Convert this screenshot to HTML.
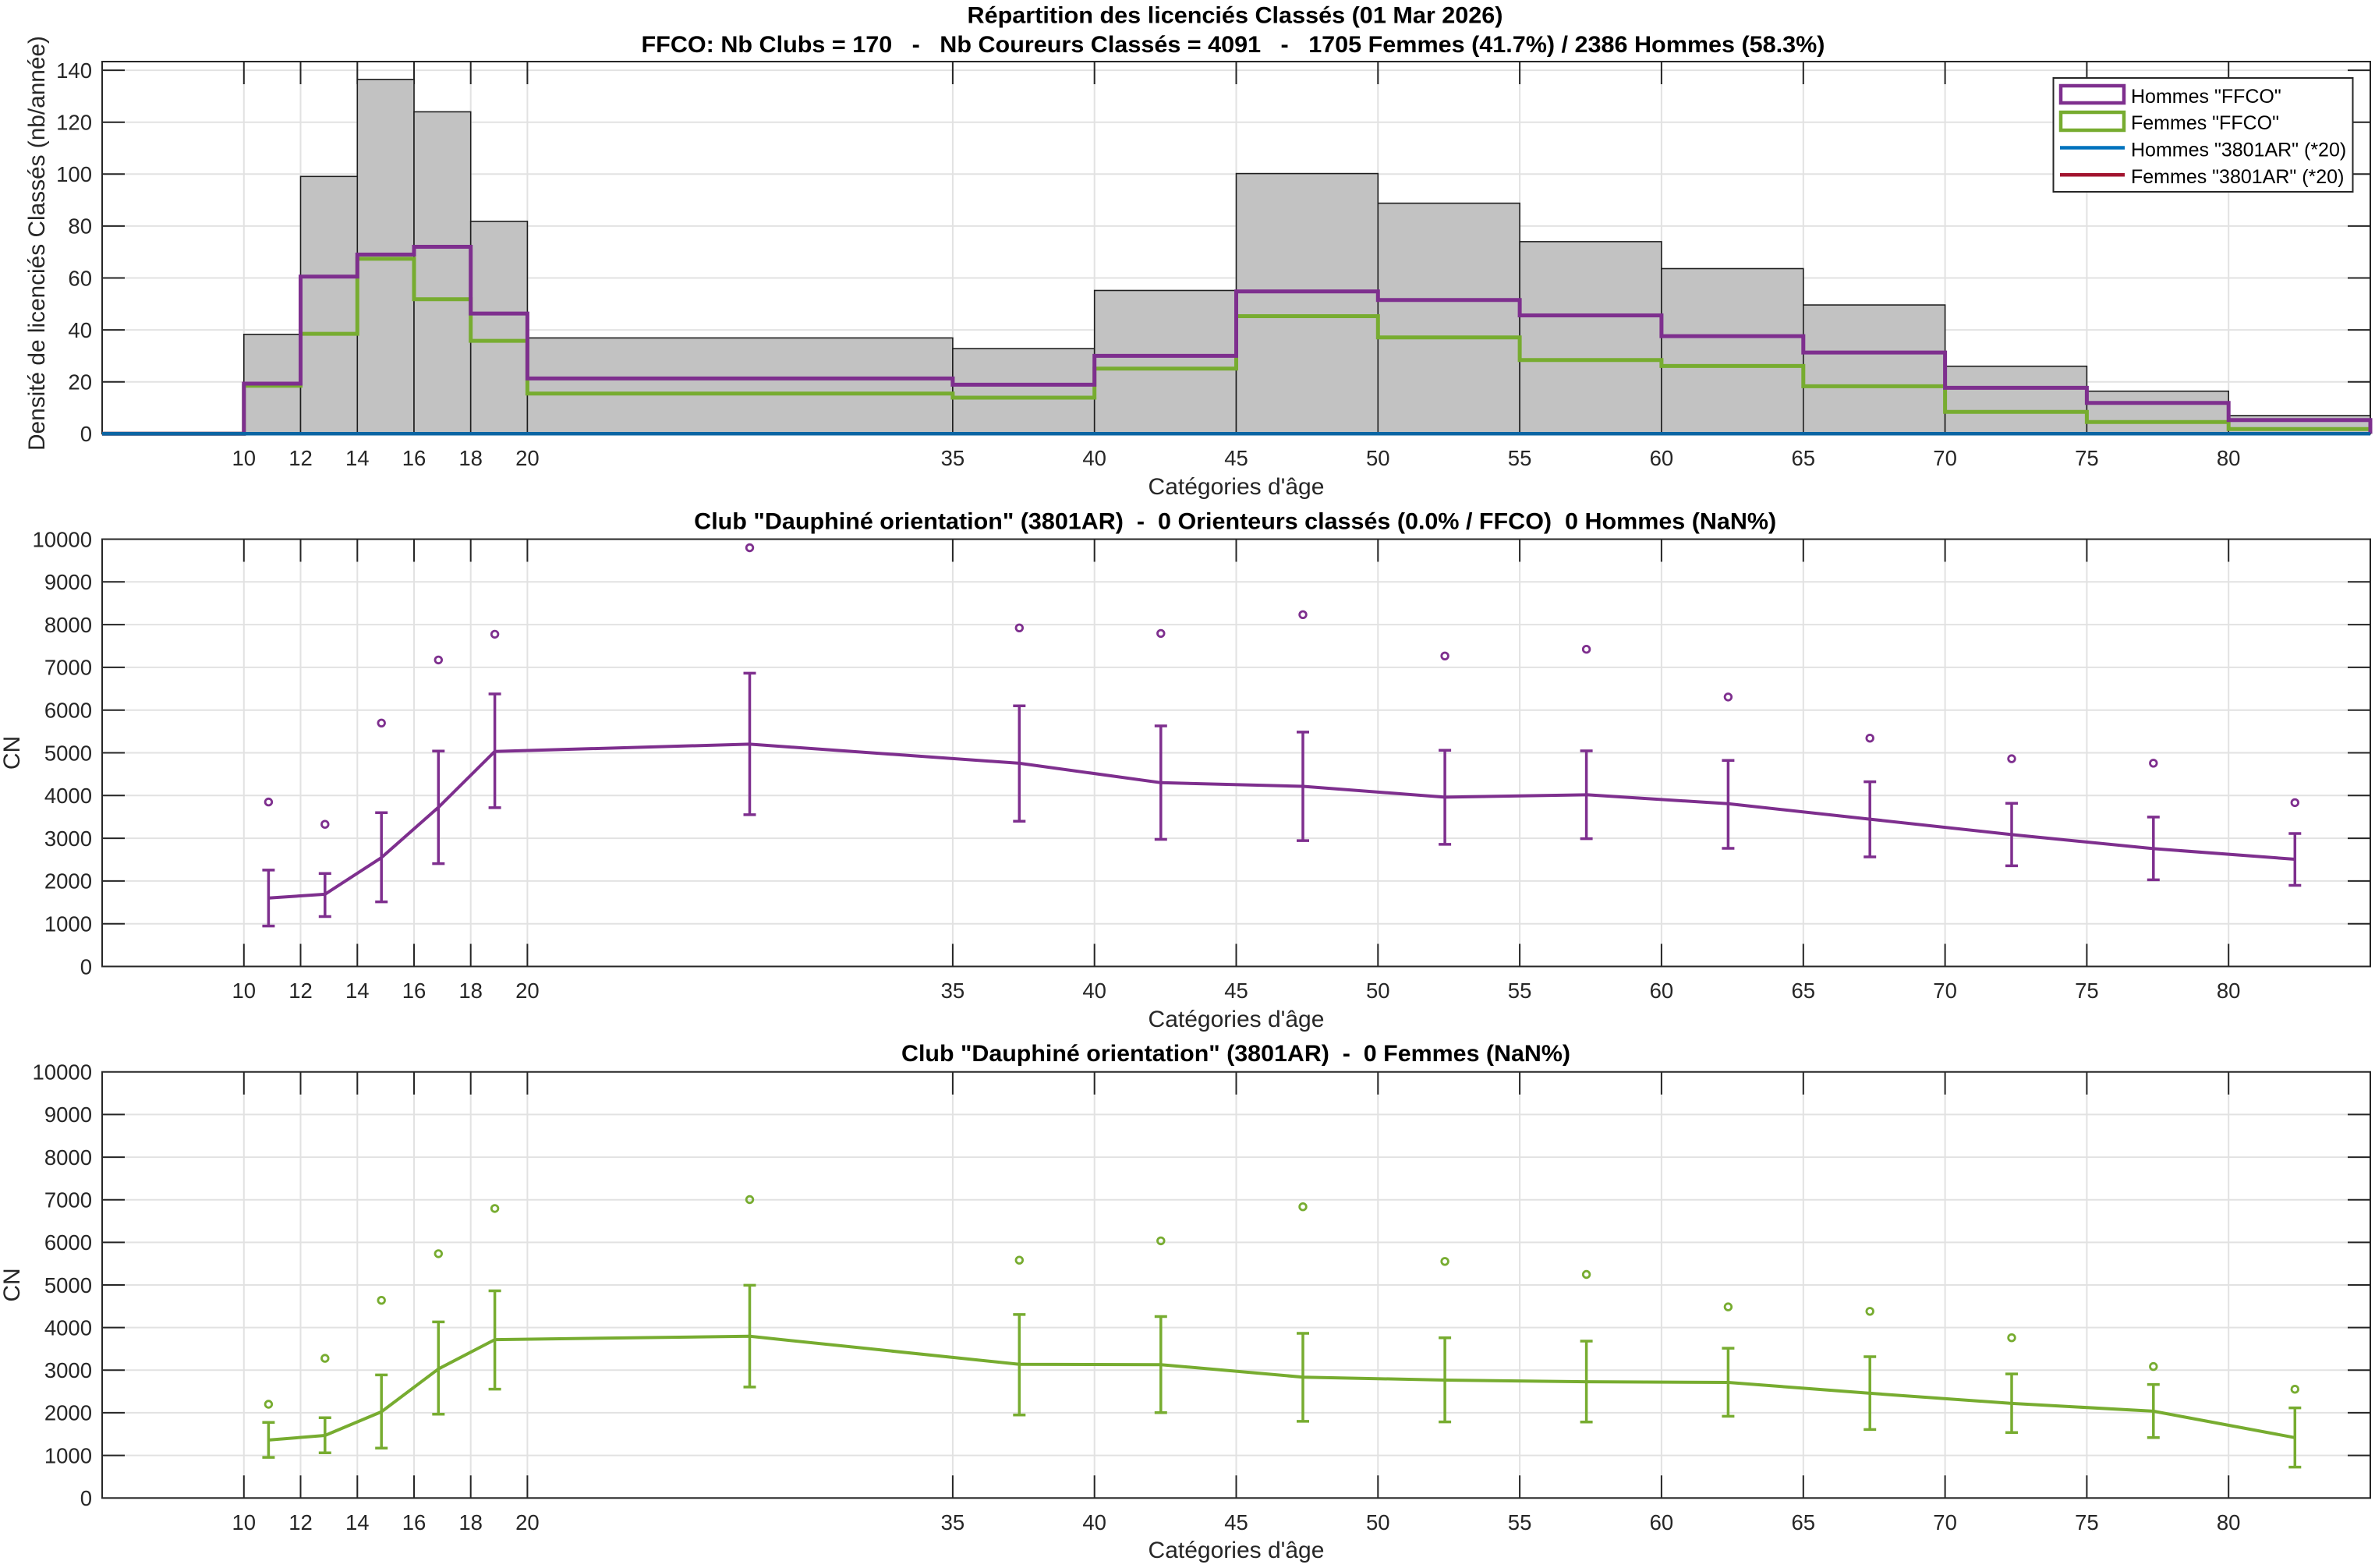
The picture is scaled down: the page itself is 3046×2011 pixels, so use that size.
<!DOCTYPE html>
<html><head><meta charset="utf-8"><style>
html,body{margin:0;padding:0;background:#fff;}
svg{display:block;}
text{font-family:"Liberation Sans",Arial,sans-serif;}
.tk{font-size:27.5px;fill:#262626;}
.lb{font-size:30px;fill:#262626;}
.tt{font-size:30px;font-weight:bold;fill:#000;white-space:pre;}
.lg{font-size:25px;fill:#000;white-space:pre;}
</style></head><body>
<svg width="3046" height="2011" viewBox="0 0 3046 2011" xmlns="http://www.w3.org/2000/svg">
<rect x="0" y="0" width="3046" height="2011" fill="#fff"/>

<!-- ============ TITLES ============ -->
<text class="tt" x="1584" y="29.5" text-anchor="middle" textLength="687" lengthAdjust="spacingAndGlyphs">Répartition des licenciés Classés (01 Mar 2026)</text>
<text class="tt" x="1581.5" y="67" text-anchor="middle" textLength="1518" lengthAdjust="spacingAndGlyphs">FFCO: Nb Clubs = 170   -   Nb Coureurs Classés = 4091   -   1705 Femmes (41.7%) / 2386 Hommes (58.3%)</text>

<!-- ============ PLOT 1 ============ -->
<rect x="131" y="79" width="2909" height="477.3" fill="#fff"/>
<path fill="none" stroke="#e2e2e2" stroke-width="2" d="M312.8 79V556.3M385.5 79V556.3M458.3 79V556.3M531 79V556.3M603.7 79V556.3M676.4 79V556.3M1221.9 79V556.3M1403.7 79V556.3M1585.5 79V556.3M1767.3 79V556.3M1949.1 79V556.3M2130.9 79V556.3M2312.8 79V556.3M2494.6 79V556.3M2676.4 79V556.3M2858.2 79V556.3M131 489.7H3040M131 423.1H3040M131 356.5H3040M131 289.9H3040M131 223.3H3040M131 156.7H3040M131 90.1H3040"/>
<path fill="none" stroke="#262626" stroke-width="2" d="M131 79H3040V556.3H131Z M312.8 79v29M385.5 79v29M458.3 79v29M531 79v29M603.7 79v29M676.4 79v29M1221.9 79v29M1403.7 79v29M1585.5 79v29M1767.3 79v29M1949.1 79v29M2130.9 79v29M2312.8 79v29M2494.6 79v29M2676.4 79v29M2858.2 79v29 M131 489.7h29M131 423.1h29M131 356.5h29M131 289.9h29M131 223.3h29M131 156.7h29M131 90.1h29 M3040 489.7h-29M3040 423.1h-29M3040 356.5h-29M3040 289.9h-29M3040 223.3h-29M3040 156.7h-29M3040 90.1h-29"/>
<!-- bars -->
<g fill="#c2c2c2" stroke="#1e1e1e" stroke-width="1.6">
<rect x="312.8" y="428.8" width="72.7" height="127.5"/>
<rect x="385.5" y="226.3" width="72.8" height="330"/>
<rect x="458.3" y="101.8" width="72.7" height="454.5"/>
<rect x="531" y="143.4" width="72.7" height="412.9"/>
<rect x="603.7" y="283.9" width="72.7" height="272.4"/>
<rect x="676.4" y="433.4" width="545.5" height="122.9"/>
<rect x="1221.9" y="447.1" width="181.8" height="109.2"/>
<rect x="1403.7" y="372.5" width="181.8" height="183.8"/>
<rect x="1585.5" y="222.6" width="181.8" height="333.7"/>
<rect x="1767.3" y="260.6" width="181.8" height="295.7"/>
<rect x="1949.1" y="309.9" width="181.8" height="246.4"/>
<rect x="2130.9" y="344.5" width="181.9" height="211.8"/>
<rect x="2312.8" y="391.1" width="181.8" height="165.2"/>
<rect x="2494.6" y="469.7" width="181.8" height="86.6"/>
<rect x="2676.4" y="501.7" width="181.8" height="54.6"/>
<rect x="2858.2" y="533" width="181.8" height="23.3"/>
</g>
<!-- femmes stairs -->
<path fill="none" stroke="#77AC30" stroke-width="5" d="M131 556.3H312.8V494.7H385.5V428.1H458.3V331.9H531V383.8H603.7V437.1H676.4V504.7H1221.9V510H1403.7V472.7H1585.5V405.5H1767.3V432.8H1949.1V461.7H2130.9V469.4H2312.8V495.4H2494.6V528.3H2676.4V541.3H2858.2V550.3H3040V556.3"/>
<!-- hommes stairs -->
<path fill="none" stroke="#7E2F8E" stroke-width="5" d="M131 556.3H312.8V492H385.5V354.8H458.3V326.5H531V316.5H603.7V402.1H676.4V485.4H1221.9V493.4H1403.7V456.4H1585.5V373.8H1767.3V384.8H1949.1V404.5H2130.9V431.1H2312.8V452.1H2494.6V497.4H2676.4V516.7H2858.2V538.7H3040V556.3"/>
<line x1="131" y1="556.3" x2="3040" y2="556.3" stroke="#A2142F" stroke-width="4.5"/>
<line x1="131" y1="556.3" x2="3040" y2="556.3" stroke="#0b65a3" stroke-width="4.5"/>
<!-- y tick labels -->
<g class="tk" text-anchor="end">
<text x="118" y="566.1">0</text><text x="118" y="499.5">20</text><text x="118" y="432.9">40</text><text x="118" y="366.3">60</text><text x="118" y="299.7">80</text><text x="118" y="233.1">100</text><text x="118" y="166.5">120</text><text x="118" y="99.9">140</text>
</g>
<g class="tk" text-anchor="middle">
<text x="312.8" y="597">10</text><text x="385.5" y="597">12</text><text x="458.3" y="597">14</text><text x="531" y="597">16</text><text x="603.7" y="597">18</text><text x="676.4" y="597">20</text><text x="1221.9" y="597">35</text><text x="1403.7" y="597">40</text><text x="1585.5" y="597">45</text><text x="1767.3" y="597">50</text><text x="1949.1" y="597">55</text><text x="2130.9" y="597">60</text><text x="2312.8" y="597">65</text><text x="2494.6" y="597">70</text><text x="2676.4" y="597">75</text><text x="2858.2" y="597">80</text>
</g>
<text class="lb" x="1585.5" y="634" text-anchor="middle">Catégories d'âge</text>
<text class="lb" transform="translate(57,312) rotate(-90)" x="0" y="0" text-anchor="middle" textLength="532" lengthAdjust="spacingAndGlyphs">Densité de licenciés Classés (nb/année)</text>
<!-- legend -->
<rect x="2633.5" y="100" width="384" height="146" fill="#fff" stroke="#262626" stroke-width="2"/>
<rect x="2643" y="110" width="81" height="22" fill="#fff" stroke="#7E2F8E" stroke-width="4.5"/>
<rect x="2643" y="144" width="81" height="23" fill="#fff" stroke="#77AC30" stroke-width="4.5"/>
<line x1="2642" y1="189.5" x2="2725" y2="189.5" stroke="#0072BD" stroke-width="4.5"/>
<line x1="2642" y1="224.3" x2="2725" y2="224.3" stroke="#A2142F" stroke-width="4.5"/>
<text class="lg" x="2733" y="132">Hommes "FFCO"</text>
<text class="lg" x="2733" y="166">Femmes "FFCO"</text>
<text class="lg" x="2733" y="200.5">Hommes "3801AR" (*20)</text>
<text class="lg" x="2733" y="235">Femmes "3801AR" (*20)</text>

<!-- ============ PLOT 2 ============ -->
<text class="tt" x="1584.2" y="678.5" text-anchor="middle" textLength="1388" lengthAdjust="spacingAndGlyphs">Club "Dauphiné orientation" (3801AR)  -  0 Orienteurs classés (0.0% / FFCO)  0 Hommes (NaN%)</text>
<path fill="none" stroke="#e2e2e2" stroke-width="2" d="M312.8 691.5V1239.5M385.5 691.5V1239.5M458.3 691.5V1239.5M531 691.5V1239.5M603.7 691.5V1239.5M676.4 691.5V1239.5M1221.9 691.5V1239.5M1403.7 691.5V1239.5M1585.5 691.5V1239.5M1767.3 691.5V1239.5M1949.1 691.5V1239.5M2130.9 691.5V1239.5M2312.8 691.5V1239.5M2494.6 691.5V1239.5M2676.4 691.5V1239.5M2858.2 691.5V1239.5M131 1184.7H3040M131 1129.9H3040M131 1075.1H3040M131 1020.3H3040M131 965.5H3040M131 910.7H3040M131 855.9H3040M131 801.1H3040M131 746.3H3040"/>
<path fill="none" stroke="#262626" stroke-width="2" d="M131 691.5H3040V1239.5H131Z M312.8 691.5v29M385.5 691.5v29M458.3 691.5v29M531 691.5v29M603.7 691.5v29M676.4 691.5v29M1221.9 691.5v29M1403.7 691.5v29M1585.5 691.5v29M1767.3 691.5v29M1949.1 691.5v29M2130.9 691.5v29M2312.8 691.5v29M2494.6 691.5v29M2676.4 691.5v29M2858.2 691.5v29 M312.8 1239.5v-29M385.5 1239.5v-29M458.3 1239.5v-29M531 1239.5v-29M603.7 1239.5v-29M676.4 1239.5v-29M1221.9 1239.5v-29M1403.7 1239.5v-29M1585.5 1239.5v-29M1767.3 1239.5v-29M1949.1 1239.5v-29M2130.9 1239.5v-29M2312.8 1239.5v-29M2494.6 1239.5v-29M2676.4 1239.5v-29M2858.2 1239.5v-29 M131 1184.7h29M131 1129.9h29M131 1075.1h29M131 1020.3h29M131 965.5h29M131 910.7h29M131 855.9h29M131 801.1h29M131 746.3h29 M3040 1184.7h-29M3040 1129.9h-29M3040 1075.1h-29M3040 1020.3h-29M3040 965.5h-29M3040 910.7h-29M3040 855.9h-29M3040 801.1h-29M3040 746.3h-29"/>
<g stroke="#7E2F8E" fill="none">
<polyline stroke-width="4" stroke-linejoin="round" points="344.4,1151.7 416.8,1146.9 489.2,1099.9 562.3,1035.4 634.6,963.7 961.5,954.4 1307.3,978.9 1488.8,1003.8 1671,1008.5 1853.1,1022.4 2034.6,1019.3 2216.4,1030.8 2398.2,1050.6 2580,1070.4 2761.8,1088.4 2943.3,1102"/>
<path stroke-width="3.5" d="M344.4 1115.9V1187.6M336.4 1115.9h16M336.4 1187.6h16 M416.8 1120.2V1175.5M408.8 1120.2h16M408.8 1175.5h16 M489.2 1042.2V1156.6M481.2 1042.2h16M481.2 1156.6h16 M562.3 963.2V1107.6M554.3 963.2h16M554.3 1107.6h16 M634.6 890V1035.9M626.6 890h16M626.6 1035.9h16 M961.5 863.4V1044.9M953.5 863.4h16M953.5 1044.9h16 M1307.3 905.3V1053.2M1299.3 905.3h16M1299.3 1053.2h16 M1488.8 931V1076.5M1480.8 931h16M1480.8 1076.5h16 M1671 938.9V1078.1M1663 938.9h16M1663 1078.1h16 M1853.1 962.3V1082.9M1845.1 962.3h16M1845.1 1082.9h16 M2034.6 963V1075.6M2026.6 963h16M2026.6 1075.6h16 M2216.4 975.3V1088M2208.4 975.3h16M2208.4 1088h16 M2398.2 1002.6V1099M2390.2 1002.6h16M2390.2 1099h16 M2580 1030.3V1110.4M2572 1030.3h16M2572 1110.4h16 M2761.8 1047.9V1128.4M2753.8 1047.9h16M2753.8 1128.4h16 M2943.3 1069V1135.5M2935.3 1069h16M2935.3 1135.5h16"/>
<g stroke-width="2.8">
<circle cx="344.4" cy="1028.6" r="4.3"/><circle cx="416.8" cy="1057.2" r="4.3"/><circle cx="489.2" cy="927.3" r="4.3"/><circle cx="562.3" cy="846.4" r="4.3"/><circle cx="634.6" cy="813.4" r="4.3"/><circle cx="961.5" cy="702.5" r="4.3"/><circle cx="1307.3" cy="805.3" r="4.3"/><circle cx="1488.8" cy="812.4" r="4.3"/><circle cx="1671" cy="788.3" r="4.3"/><circle cx="1853.1" cy="841.3" r="4.3"/><circle cx="2034.6" cy="832.7" r="4.3"/><circle cx="2216.4" cy="893.9" r="4.3"/><circle cx="2398.2" cy="946.7" r="4.3"/><circle cx="2580" cy="973.1" r="4.3"/><circle cx="2761.8" cy="978.8" r="4.3"/><circle cx="2943.3" cy="1029.4" r="4.3"/>
</g>
</g>
<g class="tk" text-anchor="end">
<text x="118" y="1249.3">0</text><text x="118" y="1194.5">1000</text><text x="118" y="1139.7">2000</text><text x="118" y="1084.9">3000</text><text x="118" y="1030.1">4000</text><text x="118" y="975.3">5000</text><text x="118" y="920.5">6000</text><text x="118" y="865.7">7000</text><text x="118" y="810.9">8000</text><text x="118" y="756.1">9000</text><text x="118" y="701.3">10000</text>
</g>
<g class="tk" text-anchor="middle">
<text x="312.8" y="1280">10</text><text x="385.5" y="1280">12</text><text x="458.3" y="1280">14</text><text x="531" y="1280">16</text><text x="603.7" y="1280">18</text><text x="676.4" y="1280">20</text><text x="1221.9" y="1280">35</text><text x="1403.7" y="1280">40</text><text x="1585.5" y="1280">45</text><text x="1767.3" y="1280">50</text><text x="1949.1" y="1280">55</text><text x="2130.9" y="1280">60</text><text x="2312.8" y="1280">65</text><text x="2494.6" y="1280">70</text><text x="2676.4" y="1280">75</text><text x="2858.2" y="1280">80</text>
</g>
<text class="lb" x="1585.5" y="1317" text-anchor="middle">Catégories d'âge</text>
<text class="lb" transform="translate(25,965.5) rotate(-90)" x="0" y="0" text-anchor="middle">CN</text>

<!-- ============ PLOT 3 ============ -->
<text class="tt" x="1585" y="1361" text-anchor="middle" textLength="858" lengthAdjust="spacingAndGlyphs">Club "Dauphiné orientation" (3801AR)  -  0 Femmes (NaN%)</text>
<path fill="none" stroke="#e2e2e2" stroke-width="2" d="M312.8 1374.8V1921.2M385.5 1374.8V1921.2M458.3 1374.8V1921.2M531 1374.8V1921.2M603.7 1374.8V1921.2M676.4 1374.8V1921.2M1221.9 1374.8V1921.2M1403.7 1374.8V1921.2M1585.5 1374.8V1921.2M1767.3 1374.8V1921.2M1949.1 1374.8V1921.2M2130.9 1374.8V1921.2M2312.8 1374.8V1921.2M2494.6 1374.8V1921.2M2676.4 1374.8V1921.2M2858.2 1374.8V1921.2M131 1866.6H3040M131 1811.9H3040M131 1757.3H3040M131 1702.6H3040M131 1648H3040M131 1593.4H3040M131 1538.7H3040M131 1484.1H3040M131 1429.4H3040"/>
<path fill="none" stroke="#262626" stroke-width="2" d="M131 1374.8H3040V1921.2H131Z M312.8 1374.8v29M385.5 1374.8v29M458.3 1374.8v29M531 1374.8v29M603.7 1374.8v29M676.4 1374.8v29M1221.9 1374.8v29M1403.7 1374.8v29M1585.5 1374.8v29M1767.3 1374.8v29M1949.1 1374.8v29M2130.9 1374.8v29M2312.8 1374.8v29M2494.6 1374.8v29M2676.4 1374.8v29M2858.2 1374.8v29 M312.8 1921.2v-29M385.5 1921.2v-29M458.3 1921.2v-29M531 1921.2v-29M603.7 1921.2v-29M676.4 1921.2v-29M1221.9 1921.2v-29M1403.7 1921.2v-29M1585.5 1921.2v-29M1767.3 1921.2v-29M1949.1 1921.2v-29M2130.9 1921.2v-29M2312.8 1921.2v-29M2494.6 1921.2v-29M2676.4 1921.2v-29M2858.2 1921.2v-29 M131 1866.6h29M131 1811.9h29M131 1757.3h29M131 1702.6h29M131 1648h29M131 1593.4h29M131 1538.7h29M131 1484.1h29M131 1429.4h29 M3040 1866.6h-29M3040 1811.9h-29M3040 1757.3h-29M3040 1702.6h-29M3040 1648h-29M3040 1593.4h-29M3040 1538.7h-29M3040 1484.1h-29M3040 1429.4h-29"/>
<g stroke="#77AC30" fill="none">
<polyline stroke-width="4" stroke-linejoin="round" points="344.4,1846.9 416.8,1841 489.2,1810.6 562.3,1755.7 634.6,1718.1 961.5,1713.8 1307.3,1749.8 1488.8,1750.2 1671,1766.2 1853.1,1770 2034.6,1772.1 2216.4,1773 2398.2,1786.9 2580,1799.9 2761.8,1809.9 2943.3,1843.8"/>
<path stroke-width="3.5" d="M344.4 1824.2V1869.1M336.4 1824.2h16M336.4 1869.1h16 M416.8 1818.3V1863.2M408.8 1818.3h16M408.8 1863.2h16 M489.2 1763.4V1857.3M481.2 1763.4h16M481.2 1857.3h16 M562.3 1695.4V1813.8M554.3 1695.4h16M554.3 1813.8h16 M634.6 1655.5V1781.6M626.6 1655.5h16M626.6 1781.6h16 M961.5 1648.4V1778.9M953.5 1648.4h16M953.5 1778.9h16 M1307.3 1685.9V1814.8M1299.3 1685.9h16M1299.3 1814.8h16 M1488.8 1688.5V1811.8M1480.8 1688.5h16M1480.8 1811.8h16 M1671 1710V1822.9M1663 1710h16M1663 1822.9h16 M1853.1 1715.7V1823.6M1845.1 1715.7h16M1845.1 1823.6h16 M2034.6 1720V1823.8M2026.6 1720h16M2026.6 1823.8h16 M2216.4 1729.1V1816.4M2208.4 1729.1h16M2208.4 1816.4h16 M2398.2 1740V1833.4M2390.2 1740h16M2390.2 1833.4h16 M2580 1762.1V1837.3M2572 1762.1h16M2572 1837.3h16 M2761.8 1775.6V1843.8M2753.8 1775.6h16M2753.8 1843.8h16 M2943.3 1805.6V1881.6M2935.3 1805.6h16M2935.3 1881.6h16"/>
<g stroke-width="2.8">
<circle cx="344.4" cy="1801" r="4.3"/><circle cx="416.8" cy="1742.1" r="4.3"/><circle cx="489.2" cy="1667.7" r="4.3"/><circle cx="562.3" cy="1607.9" r="4.3"/><circle cx="634.6" cy="1549.9" r="4.3"/><circle cx="961.5" cy="1538.5" r="4.3"/><circle cx="1307.3" cy="1616.2" r="4.3"/><circle cx="1488.8" cy="1591.4" r="4.3"/><circle cx="1671" cy="1547.7" r="4.3"/><circle cx="1853.1" cy="1617.8" r="4.3"/><circle cx="2034.6" cy="1634.5" r="4.3"/><circle cx="2216.4" cy="1676.1" r="4.3"/><circle cx="2398.2" cy="1681.8" r="4.3"/><circle cx="2580" cy="1715.7" r="4.3"/><circle cx="2761.8" cy="1752.6" r="4.3"/><circle cx="2943.3" cy="1781.7" r="4.3"/>
</g>
</g>
<g class="tk" text-anchor="end">
<text x="118" y="1931">0</text><text x="118" y="1876.4">1000</text><text x="118" y="1821.7">2000</text><text x="118" y="1767.1">3000</text><text x="118" y="1712.4">4000</text><text x="118" y="1657.8">5000</text><text x="118" y="1603.2">6000</text><text x="118" y="1548.5">7000</text><text x="118" y="1493.9">8000</text><text x="118" y="1439.2">9000</text><text x="118" y="1384.6">10000</text>
</g>
<g class="tk" text-anchor="middle">
<text x="312.8" y="1962">10</text><text x="385.5" y="1962">12</text><text x="458.3" y="1962">14</text><text x="531" y="1962">16</text><text x="603.7" y="1962">18</text><text x="676.4" y="1962">20</text><text x="1221.9" y="1962">35</text><text x="1403.7" y="1962">40</text><text x="1585.5" y="1962">45</text><text x="1767.3" y="1962">50</text><text x="1949.1" y="1962">55</text><text x="2130.9" y="1962">60</text><text x="2312.8" y="1962">65</text><text x="2494.6" y="1962">70</text><text x="2676.4" y="1962">75</text><text x="2858.2" y="1962">80</text>
</g>
<text class="lb" x="1585.5" y="1998" text-anchor="middle">Catégories d'âge</text>
<text class="lb" transform="translate(25,1648) rotate(-90)" x="0" y="0" text-anchor="middle">CN</text>
</svg>
</body></html>
